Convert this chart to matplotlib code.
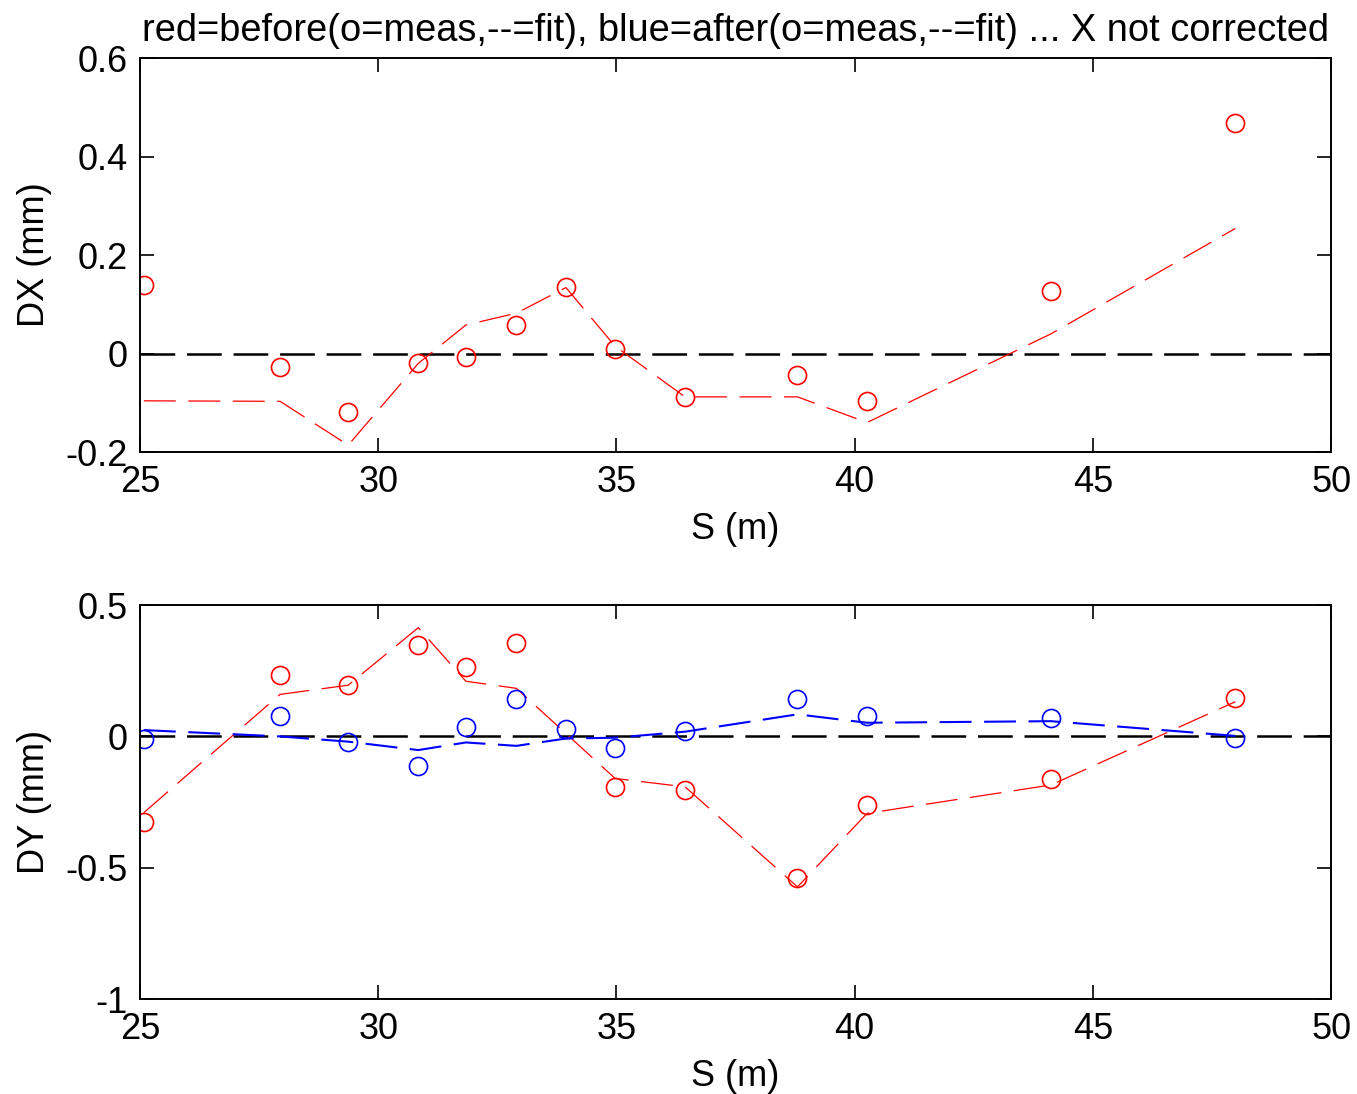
"""
DX / DY orbit before and after correction
"""
import numpy as np
import matplotlib
matplotlib.use("Agg")
from matplotlib import pyplot as plt

# measurement positions (m)
s_pos = [25.08, 27.94, 29.37, 30.84, 31.84, 32.90, 33.94, 34.97, 36.44, 38.80, 40.26, 44.12, 47.99]

# DX (mm), before correction only
dx_meas = [0.139, -0.027, -0.119, -0.019, -0.007, 0.058, 0.135, 0.009, -0.088, -0.044, -0.096, 0.127, 0.468]
dx_fit = [-0.096, -0.097, -0.186, -0.020, 0.058, 0.082, 0.134, 0.015, -0.088, -0.088, -0.140, 0.040, 0.254]

# DY (mm), before (red) and after (blue)
dy_before_meas = [-0.325, 0.233, 0.195, 0.348, 0.263, 0.354, np.nan, -0.194, -0.204, -0.538, -0.262, -0.164, 0.148]
dy_before_fit = [-0.290, 0.160, 0.195, 0.414, 0.210, 0.183, 0.011, -0.160, -0.192, -0.573, -0.293, -0.185, 0.132]
dy_after_meas = [-0.011, 0.078, -0.020, -0.112, 0.034, 0.141, 0.027, -0.043, 0.020, 0.141, 0.078, 0.071, -0.005]
dy_after_fit = [0.024, 0.000, -0.020, -0.052, -0.023, -0.036, -0.008, -0.005, 0.018, 0.084, 0.052, 0.058, 0.002]

x_ticks = [25, 30, 35, 40, 45, 50]
dx_ticks = [-0.2, 0, 0.2, 0.4, 0.6]
dx_labels = ['-0.2', '0', '0.2', '0.4', '0.6']
dy_ticks = [-1, -0.5, 0, 0.5]
dy_labels = ['-1', '-0.5', '0', '0.5']

TITLE = "red=before(o=meas,--=fit), blue=after(o=meas,--=fit) ... X not corrected"

plt.rcParams['font.family'] = ['Liberation Sans', 'DejaVu Sans']
plt.rcParams['lines.scale_dashes'] = False

fig = plt.figure(figsize=(13.57, 10.94), dpi=100)
ax1 = fig.add_axes([0.1032, 0.5868, 0.8777, 0.3601])
ax2 = fig.add_axes([0.1032, 0.0868, 0.8777, 0.3601])

FS = 26
MK = dict(linestyle='none', marker='o', markersize=13, markerfacecolor='none',
          markeredgewidth=1.2)


def style_axes(ax, yticks, ylabels, ylim, ylabel):
    ax.set_xlim(25, 50)
    ax.set_ylim(*ylim)
    ax.set_xticks(x_ticks)
    ax.set_xticklabels([str(t) for t in x_ticks])
    ax.set_yticks(yticks)
    ax.set_yticklabels(ylabels)
    ax.tick_params(direction='in', length=10, width=1.2, top=True, right=True,
                   labelsize=FS)
    ax.tick_params(axis='x', pad=9)
    ax.tick_params(axis='y', pad=9)
    for sp in ax.spines.values():
        sp.set_linewidth(1.4)
    ax.set_xlabel('S (m)', fontsize=FS)
    ax.set_ylabel(ylabel, fontsize=FS)
    ax.xaxis.set_label_coords(0.5, -0.153)
    ax.yaxis.set_label_coords(-0.074, 0.5)
    # zero reference
    ax.plot([25, 50], [0, 0], color='black', linewidth=1.8, dashes=(25, 8.5))


style_axes(ax1, dx_ticks, dx_labels, (-0.2, 0.6), 'DX (mm)')
ax1.plot(s_pos, dx_fit, color='red', linewidth=0.9, dashes=(23, 9))
ax1.plot(s_pos, dx_meas, color='red', markeredgecolor='red', **MK)
ax1.set_title(TITLE, fontsize=27.4, family=['Liberation Sans Narrow', 'Liberation Sans'],
              pad=12)

style_axes(ax2, dy_ticks, dy_labels, (-1, 0.5), 'DY (mm)')
ax2.plot(s_pos, dy_before_fit, color='red', linewidth=0.9, dashes=(23, 9))
ax2.plot(s_pos, dy_before_meas, color='red', markeredgecolor='red', **MK)
ax2.plot(s_pos, dy_after_fit, color='blue', linewidth=1.5, dashes=(23, 9))
ax2.plot(s_pos, dy_after_meas, color='blue', markeredgecolor='blue', **MK)

fig.savefig('out.png', dpi=100)
